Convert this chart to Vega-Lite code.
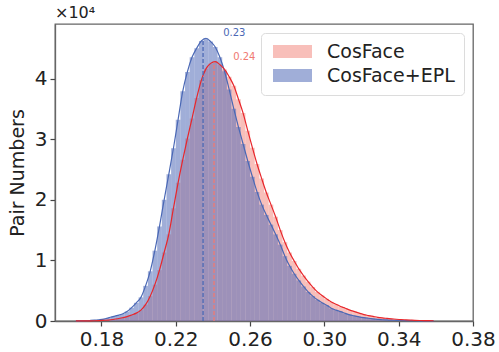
{
 "$schema": "https://vega.github.io/schema/vega-lite/v6.json",
 "width": 418,
 "height": 297,
 "autosize": {"type": "none"},
 "padding": {"left": 55, "top": 24, "right": 26, "bottom": 31},
 "title": {"text": "×10⁴", "anchor": "start", "frame": "group", "fontSize": 16, "fontWeight": "normal", "offset": 3, "color": "#222222"},
 "config": {
  "font": "DejaVu Sans",
  "view": {"stroke": "#666666", "strokeWidth": 1.3},
  "axis": {"grid": false, "domainColor": "#666666", "domainWidth": 1.3, "tickColor": "#444444", "tickSize": 5, "tickWidth": 1.2, "labelFontSize": 20, "labelColor": "#222222", "titleFontSize": 19, "titleFontWeight": "normal", "titleColor": "#222222"},
  "legend": {"orient": "top-right", "offset": 9, "strokeColor": "#dcdcdc", "fillColor": "rgba(255,255,255,0.8)", "cornerRadius": 4, "padding": 9, "labelFontSize": 19, "labelColor": "#222222", "symbolType": "M-1,-1L5,-1L5,1L-1,1Z", "symbolSize": 169, "symbolStrokeWidth": 0, "labelOffset": 38, "rowPadding": 4}
 },
 "datasets": {
  "hist": [
   {"series":"CosFace","lo":0.165,"hi":0.1675,"mid":0.16625,"count":5},
   {"series":"CosFace","lo":0.1675,"hi":0.17,"mid":0.16875,"count":10},
   {"series":"CosFace","lo":0.17,"hi":0.1725,"mid":0.17125,"count":15},
   {"series":"CosFace","lo":0.1725,"hi":0.175,"mid":0.17375,"count":25},
   {"series":"CosFace","lo":0.175,"hi":0.1775,"mid":0.17625,"count":40},
   {"series":"CosFace","lo":0.1775,"hi":0.18,"mid":0.17875,"count":70},
   {"series":"CosFace","lo":0.18,"hi":0.1825,"mid":0.18125,"count":110},
   {"series":"CosFace","lo":0.1825,"hi":0.185,"mid":0.18375,"count":160},
   {"series":"CosFace","lo":0.185,"hi":0.1875,"mid":0.18625,"count":250},
   {"series":"CosFace","lo":0.1875,"hi":0.19,"mid":0.18875,"count":370},
   {"series":"CosFace","lo":0.19,"hi":0.1925,"mid":0.19125,"count":530},
   {"series":"CosFace","lo":0.1925,"hi":0.195,"mid":0.19375,"count":720},
   {"series":"CosFace","lo":0.195,"hi":0.1975,"mid":0.19625,"count":1000},
   {"series":"CosFace","lo":0.1975,"hi":0.2,"mid":0.19875,"count":1300},
   {"series":"CosFace","lo":0.2,"hi":0.2025,"mid":0.20125,"count":1800},
   {"series":"CosFace","lo":0.2025,"hi":0.205,"mid":0.20375,"count":2700},
   {"series":"CosFace","lo":0.205,"hi":0.2075,"mid":0.20625,"count":4100},
   {"series":"CosFace","lo":0.2075,"hi":0.21,"mid":0.20875,"count":6000},
   {"series":"CosFace","lo":0.21,"hi":0.2125,"mid":0.21125,"count":8400},
   {"series":"CosFace","lo":0.2125,"hi":0.215,"mid":0.21375,"count":11300},
   {"series":"CosFace","lo":0.215,"hi":0.2175,"mid":0.21625,"count":14300},
   {"series":"CosFace","lo":0.2175,"hi":0.22,"mid":0.21875,"count":18600},
   {"series":"CosFace","lo":0.22,"hi":0.2225,"mid":0.22125,"count":22800},
   {"series":"CosFace","lo":0.2225,"hi":0.225,"mid":0.22375,"count":26600},
   {"series":"CosFace","lo":0.225,"hi":0.2275,"mid":0.22625,"count":30100},
   {"series":"CosFace","lo":0.2275,"hi":0.23,"mid":0.22875,"count":33400},
   {"series":"CosFace","lo":0.23,"hi":0.2325,"mid":0.23125,"count":36800},
   {"series":"CosFace","lo":0.2325,"hi":0.235,"mid":0.23375,"count":39700},
   {"series":"CosFace","lo":0.235,"hi":0.2375,"mid":0.23625,"count":41600},
   {"series":"CosFace","lo":0.2375,"hi":0.24,"mid":0.23875,"count":42500},
   {"series":"CosFace","lo":0.24,"hi":0.2425,"mid":0.24125,"count":42800},
   {"series":"CosFace","lo":0.2425,"hi":0.245,"mid":0.24375,"count":42300},
   {"series":"CosFace","lo":0.245,"hi":0.2475,"mid":0.24625,"count":41500},
   {"series":"CosFace","lo":0.2475,"hi":0.25,"mid":0.24875,"count":40300},
   {"series":"CosFace","lo":0.25,"hi":0.2525,"mid":0.25125,"count":38800},
   {"series":"CosFace","lo":0.2525,"hi":0.255,"mid":0.25375,"count":36600},
   {"series":"CosFace","lo":0.255,"hi":0.2575,"mid":0.25625,"count":34300},
   {"series":"CosFace","lo":0.2575,"hi":0.26,"mid":0.25875,"count":31400},
   {"series":"CosFace","lo":0.26,"hi":0.2625,"mid":0.26125,"count":28600},
   {"series":"CosFace","lo":0.2625,"hi":0.265,"mid":0.26375,"count":25900},
   {"series":"CosFace","lo":0.265,"hi":0.2675,"mid":0.26625,"count":23500},
   {"series":"CosFace","lo":0.2675,"hi":0.27,"mid":0.26875,"count":21200},
   {"series":"CosFace","lo":0.27,"hi":0.2725,"mid":0.27125,"count":19200},
   {"series":"CosFace","lo":0.2725,"hi":0.275,"mid":0.27375,"count":17200},
   {"series":"CosFace","lo":0.275,"hi":0.2775,"mid":0.27625,"count":15000},
   {"series":"CosFace","lo":0.2775,"hi":0.28,"mid":0.27875,"count":13000},
   {"series":"CosFace","lo":0.28,"hi":0.2825,"mid":0.28125,"count":11300},
   {"series":"CosFace","lo":0.2825,"hi":0.285,"mid":0.28375,"count":9900},
   {"series":"CosFace","lo":0.285,"hi":0.2875,"mid":0.28625,"count":8600},
   {"series":"CosFace","lo":0.2875,"hi":0.29,"mid":0.28875,"count":7500},
   {"series":"CosFace","lo":0.29,"hi":0.2925,"mid":0.29125,"count":6500},
   {"series":"CosFace","lo":0.2925,"hi":0.295,"mid":0.29375,"count":5600},
   {"series":"CosFace","lo":0.295,"hi":0.2975,"mid":0.29625,"count":4800},
   {"series":"CosFace","lo":0.2975,"hi":0.3,"mid":0.29875,"count":4200},
   {"series":"CosFace","lo":0.3,"hi":0.3025,"mid":0.30125,"count":3650},
   {"series":"CosFace","lo":0.3025,"hi":0.305,"mid":0.30375,"count":3150},
   {"series":"CosFace","lo":0.305,"hi":0.3075,"mid":0.30625,"count":2750},
   {"series":"CosFace","lo":0.3075,"hi":0.31,"mid":0.30875,"count":2400},
   {"series":"CosFace","lo":0.31,"hi":0.3125,"mid":0.31125,"count":2100},
   {"series":"CosFace","lo":0.3125,"hi":0.315,"mid":0.31375,"count":1800},
   {"series":"CosFace","lo":0.315,"hi":0.3175,"mid":0.31625,"count":1550},
   {"series":"CosFace","lo":0.3175,"hi":0.32,"mid":0.31875,"count":1300},
   {"series":"CosFace","lo":0.32,"hi":0.3225,"mid":0.32125,"count":1050},
   {"series":"CosFace","lo":0.3225,"hi":0.325,"mid":0.32375,"count":900},
   {"series":"CosFace","lo":0.325,"hi":0.3275,"mid":0.32625,"count":750},
   {"series":"CosFace","lo":0.3275,"hi":0.33,"mid":0.32875,"count":600},
   {"series":"CosFace","lo":0.33,"hi":0.3325,"mid":0.33125,"count":500},
   {"series":"CosFace","lo":0.3325,"hi":0.335,"mid":0.33375,"count":430},
   {"series":"CosFace","lo":0.335,"hi":0.3375,"mid":0.33625,"count":360},
   {"series":"CosFace","lo":0.3375,"hi":0.34,"mid":0.33875,"count":290},
   {"series":"CosFace","lo":0.34,"hi":0.3425,"mid":0.34125,"count":230},
   {"series":"CosFace","lo":0.3425,"hi":0.345,"mid":0.34375,"count":190},
   {"series":"CosFace","lo":0.345,"hi":0.3475,"mid":0.34625,"count":150},
   {"series":"CosFace","lo":0.3475,"hi":0.35,"mid":0.34875,"count":110},
   {"series":"CosFace","lo":0.35,"hi":0.3525,"mid":0.35125,"count":80},
   {"series":"CosFace","lo":0.3525,"hi":0.355,"mid":0.35375,"count":60},
   {"series":"CosFace","lo":0.355,"hi":0.3575,"mid":0.35625,"count":50},
   {"series":"CosFace","lo":0.3575,"hi":0.36,"mid":0.35875,"count":40},
   {"series":"CosFace+EPL","lo":0.165,"hi":0.1675,"mid":0.16625,"count":10},
   {"series":"CosFace+EPL","lo":0.1675,"hi":0.17,"mid":0.16875,"count":20},
   {"series":"CosFace+EPL","lo":0.17,"hi":0.1725,"mid":0.17125,"count":40},
   {"series":"CosFace+EPL","lo":0.1725,"hi":0.175,"mid":0.17375,"count":80},
   {"series":"CosFace+EPL","lo":0.175,"hi":0.1775,"mid":0.17625,"count":130},
   {"series":"CosFace+EPL","lo":0.1775,"hi":0.18,"mid":0.17875,"count":210},
   {"series":"CosFace+EPL","lo":0.18,"hi":0.1825,"mid":0.18125,"count":320},
   {"series":"CosFace+EPL","lo":0.1825,"hi":0.185,"mid":0.18375,"count":520},
   {"series":"CosFace+EPL","lo":0.185,"hi":0.1875,"mid":0.18625,"count":730},
   {"series":"CosFace+EPL","lo":0.1875,"hi":0.19,"mid":0.18875,"count":920},
   {"series":"CosFace+EPL","lo":0.19,"hi":0.1925,"mid":0.19125,"count":1150},
   {"series":"CosFace+EPL","lo":0.1925,"hi":0.195,"mid":0.19375,"count":1550},
   {"series":"CosFace+EPL","lo":0.195,"hi":0.1975,"mid":0.19625,"count":2200},
   {"series":"CosFace+EPL","lo":0.1975,"hi":0.2,"mid":0.19875,"count":3000},
   {"series":"CosFace+EPL","lo":0.2,"hi":0.2025,"mid":0.20125,"count":3900},
   {"series":"CosFace+EPL","lo":0.2025,"hi":0.205,"mid":0.20375,"count":5800},
   {"series":"CosFace+EPL","lo":0.205,"hi":0.2075,"mid":0.20625,"count":8200},
   {"series":"CosFace+EPL","lo":0.2075,"hi":0.21,"mid":0.20875,"count":11600},
   {"series":"CosFace+EPL","lo":0.21,"hi":0.2125,"mid":0.21125,"count":15600},
   {"series":"CosFace+EPL","lo":0.2125,"hi":0.215,"mid":0.21375,"count":20000},
   {"series":"CosFace+EPL","lo":0.215,"hi":0.2175,"mid":0.21625,"count":24200},
   {"series":"CosFace+EPL","lo":0.2175,"hi":0.22,"mid":0.21875,"count":28500},
   {"series":"CosFace+EPL","lo":0.22,"hi":0.2225,"mid":0.22125,"count":33200},
   {"series":"CosFace+EPL","lo":0.2225,"hi":0.225,"mid":0.22375,"count":37900},
   {"series":"CosFace+EPL","lo":0.225,"hi":0.2275,"mid":0.22625,"count":41100},
   {"series":"CosFace+EPL","lo":0.2275,"hi":0.23,"mid":0.22875,"count":43500},
   {"series":"CosFace+EPL","lo":0.23,"hi":0.2325,"mid":0.23125,"count":45000},
   {"series":"CosFace+EPL","lo":0.2325,"hi":0.235,"mid":0.23375,"count":46200},
   {"series":"CosFace+EPL","lo":0.235,"hi":0.2375,"mid":0.23625,"count":46650},
   {"series":"CosFace+EPL","lo":0.2375,"hi":0.24,"mid":0.23875,"count":46100},
   {"series":"CosFace+EPL","lo":0.24,"hi":0.2425,"mid":0.24125,"count":45200},
   {"series":"CosFace+EPL","lo":0.2425,"hi":0.245,"mid":0.24375,"count":43500},
   {"series":"CosFace+EPL","lo":0.245,"hi":0.2475,"mid":0.24625,"count":41200},
   {"series":"CosFace+EPL","lo":0.2475,"hi":0.25,"mid":0.24875,"count":38200},
   {"series":"CosFace+EPL","lo":0.25,"hi":0.2525,"mid":0.25125,"count":35000},
   {"series":"CosFace+EPL","lo":0.2525,"hi":0.255,"mid":0.25375,"count":32000},
   {"series":"CosFace+EPL","lo":0.255,"hi":0.2575,"mid":0.25625,"count":29200},
   {"series":"CosFace+EPL","lo":0.2575,"hi":0.26,"mid":0.25875,"count":26400},
   {"series":"CosFace+EPL","lo":0.26,"hi":0.2625,"mid":0.26125,"count":23800},
   {"series":"CosFace+EPL","lo":0.2625,"hi":0.265,"mid":0.26375,"count":21300},
   {"series":"CosFace+EPL","lo":0.265,"hi":0.2675,"mid":0.26625,"count":19200},
   {"series":"CosFace+EPL","lo":0.2675,"hi":0.27,"mid":0.26875,"count":17500},
   {"series":"CosFace+EPL","lo":0.27,"hi":0.2725,"mid":0.27125,"count":15900},
   {"series":"CosFace+EPL","lo":0.2725,"hi":0.275,"mid":0.27375,"count":14300},
   {"series":"CosFace+EPL","lo":0.275,"hi":0.2775,"mid":0.27625,"count":12600},
   {"series":"CosFace+EPL","lo":0.2775,"hi":0.28,"mid":0.27875,"count":10700},
   {"series":"CosFace+EPL","lo":0.28,"hi":0.2825,"mid":0.28125,"count":9100},
   {"series":"CosFace+EPL","lo":0.2825,"hi":0.285,"mid":0.28375,"count":7800},
   {"series":"CosFace+EPL","lo":0.285,"hi":0.2875,"mid":0.28625,"count":6700},
   {"series":"CosFace+EPL","lo":0.2875,"hi":0.29,"mid":0.28875,"count":5700},
   {"series":"CosFace+EPL","lo":0.29,"hi":0.2925,"mid":0.29125,"count":4800},
   {"series":"CosFace+EPL","lo":0.2925,"hi":0.295,"mid":0.29375,"count":4100},
   {"series":"CosFace+EPL","lo":0.295,"hi":0.2975,"mid":0.29625,"count":3500},
   {"series":"CosFace+EPL","lo":0.2975,"hi":0.3,"mid":0.29875,"count":3000},
   {"series":"CosFace+EPL","lo":0.3,"hi":0.3025,"mid":0.30125,"count":2600},
   {"series":"CosFace+EPL","lo":0.3025,"hi":0.305,"mid":0.30375,"count":2100},
   {"series":"CosFace+EPL","lo":0.305,"hi":0.3075,"mid":0.30625,"count":1800},
   {"series":"CosFace+EPL","lo":0.3075,"hi":0.31,"mid":0.30875,"count":1550},
   {"series":"CosFace+EPL","lo":0.31,"hi":0.3125,"mid":0.31125,"count":1250},
   {"series":"CosFace+EPL","lo":0.3125,"hi":0.315,"mid":0.31375,"count":1000},
   {"series":"CosFace+EPL","lo":0.315,"hi":0.3175,"mid":0.31625,"count":850},
   {"series":"CosFace+EPL","lo":0.3175,"hi":0.32,"mid":0.31875,"count":680},
   {"series":"CosFace+EPL","lo":0.32,"hi":0.3225,"mid":0.32125,"count":550},
   {"series":"CosFace+EPL","lo":0.3225,"hi":0.325,"mid":0.32375,"count":450},
   {"series":"CosFace+EPL","lo":0.325,"hi":0.3275,"mid":0.32625,"count":360},
   {"series":"CosFace+EPL","lo":0.3275,"hi":0.33,"mid":0.32875,"count":280},
   {"series":"CosFace+EPL","lo":0.33,"hi":0.3325,"mid":0.33125,"count":210},
   {"series":"CosFace+EPL","lo":0.3325,"hi":0.335,"mid":0.33375,"count":170},
   {"series":"CosFace+EPL","lo":0.335,"hi":0.3375,"mid":0.33625,"count":130},
   {"series":"CosFace+EPL","lo":0.3375,"hi":0.34,"mid":0.33875,"count":100},
   {"series":"CosFace+EPL","lo":0.34,"hi":0.3425,"mid":0.34125,"count":80},
   {"series":"CosFace+EPL","lo":0.3425,"hi":0.345,"mid":0.34375,"count":60},
   {"series":"CosFace+EPL","lo":0.345,"hi":0.3475,"mid":0.34625,"count":50},
   {"series":"CosFace+EPL","lo":0.3475,"hi":0.35,"mid":0.34875,"count":40},
   {"series":"CosFace+EPL","lo":0.35,"hi":0.3525,"mid":0.35125,"count":30},
   {"series":"CosFace+EPL","lo":0.3525,"hi":0.355,"mid":0.35375,"count":20},
   {"series":"CosFace+EPL","lo":0.355,"hi":0.3575,"mid":0.35625,"count":15},
   {"series":"CosFace+EPL","lo":0.3575,"hi":0.36,"mid":0.35875,"count":10}
  ],
  "peaks": [
   {"series":"CosFace+EPL","x":0.2347,"base":0,"top":46300,"label":"0.23","lx":0.2455,"ly":47500},
   {"series":"CosFace","x":0.2406,"base":0,"top":42700,"label":"0.24","lx":0.2509,"ly":43600}
  ]
 },
 "layer": [
  {
   "data": {"name": "hist"},
   "mark": {"type": "bar", "opacity": 0.55},
   "encoding": {
    "x": {"field": "lo", "type": "quantitative", "scale": {"domain": [0.155, 0.38], "nice": false, "zero": false},
          "axis": {"values": [0.18, 0.22, 0.26, 0.30, 0.34, 0.38], "format": ".2f", "title": null, "labelFlush": false, "labelPadding": 3}},
    "x2": {"field": "hi"},
    "y": {"field": "count", "type": "quantitative", "stack": null, "scale": {"domain": [0, 49000], "nice": false},
          "axis": {"values": [0, 10000, 20000, 30000, 40000], "labelExpr": "format(datum.value/10000,'d')", "title": "Pair Numbers", "titlePadding": 7, "labelPadding": 3}},
    "y2": {"datum": 0},
    "color": {"field": "series", "type": "nominal", "scale": {"domain": ["CosFace", "CosFace+EPL"], "range": ["#f28b82", "#526cb8"]}, "legend": {"title": null}}
   }
  },
  {
   "data": {"name": "hist"},
   "transform": [{"filter": "datum.series == 'CosFace+EPL'"}],
   "mark": {"type": "line", "color": "#4a68b5", "strokeWidth": 1.2, "interpolate": "monotone"},
   "encoding": {
    "x": {"field": "mid", "type": "quantitative"},
    "y": {"field": "count", "type": "quantitative"}
   }
  },
  {
   "data": {"name": "hist"},
   "transform": [{"filter": "datum.series == 'CosFace'"}],
   "mark": {"type": "line", "color": "#e8262b", "strokeWidth": 1.2, "interpolate": "monotone"},
   "encoding": {
    "x": {"field": "mid", "type": "quantitative"},
    "y": {"field": "count", "type": "quantitative"}
   }
  },
  {
   "data": {"name": "peaks"},
   "mark": {"type": "rule", "strokeWidth": 1.3, "strokeDash": [4, 2]},
   "encoding": {
    "x": {"field": "x", "type": "quantitative"},
    "y": {"field": "base", "type": "quantitative"},
    "y2": {"field": "top"},
    "stroke": {"field": "series", "type": "nominal", "scale": {"domain": ["CosFace", "CosFace+EPL"], "range": ["#f07a72", "#4a68b5"]}, "legend": null}
   }
  },
  {
   "data": {"name": "peaks"},
   "mark": {"type": "text", "align": "left", "baseline": "middle", "fontSize": 10},
   "encoding": {
    "x": {"field": "lx", "type": "quantitative"},
    "y": {"field": "ly", "type": "quantitative"},
    "text": {"field": "label"},
    "fill": {"field": "series", "type": "nominal", "scale": {"domain": ["CosFace", "CosFace+EPL"], "range": ["#f07a72", "#4a68b5"]}, "legend": null}
   }
  }
 ]
}
